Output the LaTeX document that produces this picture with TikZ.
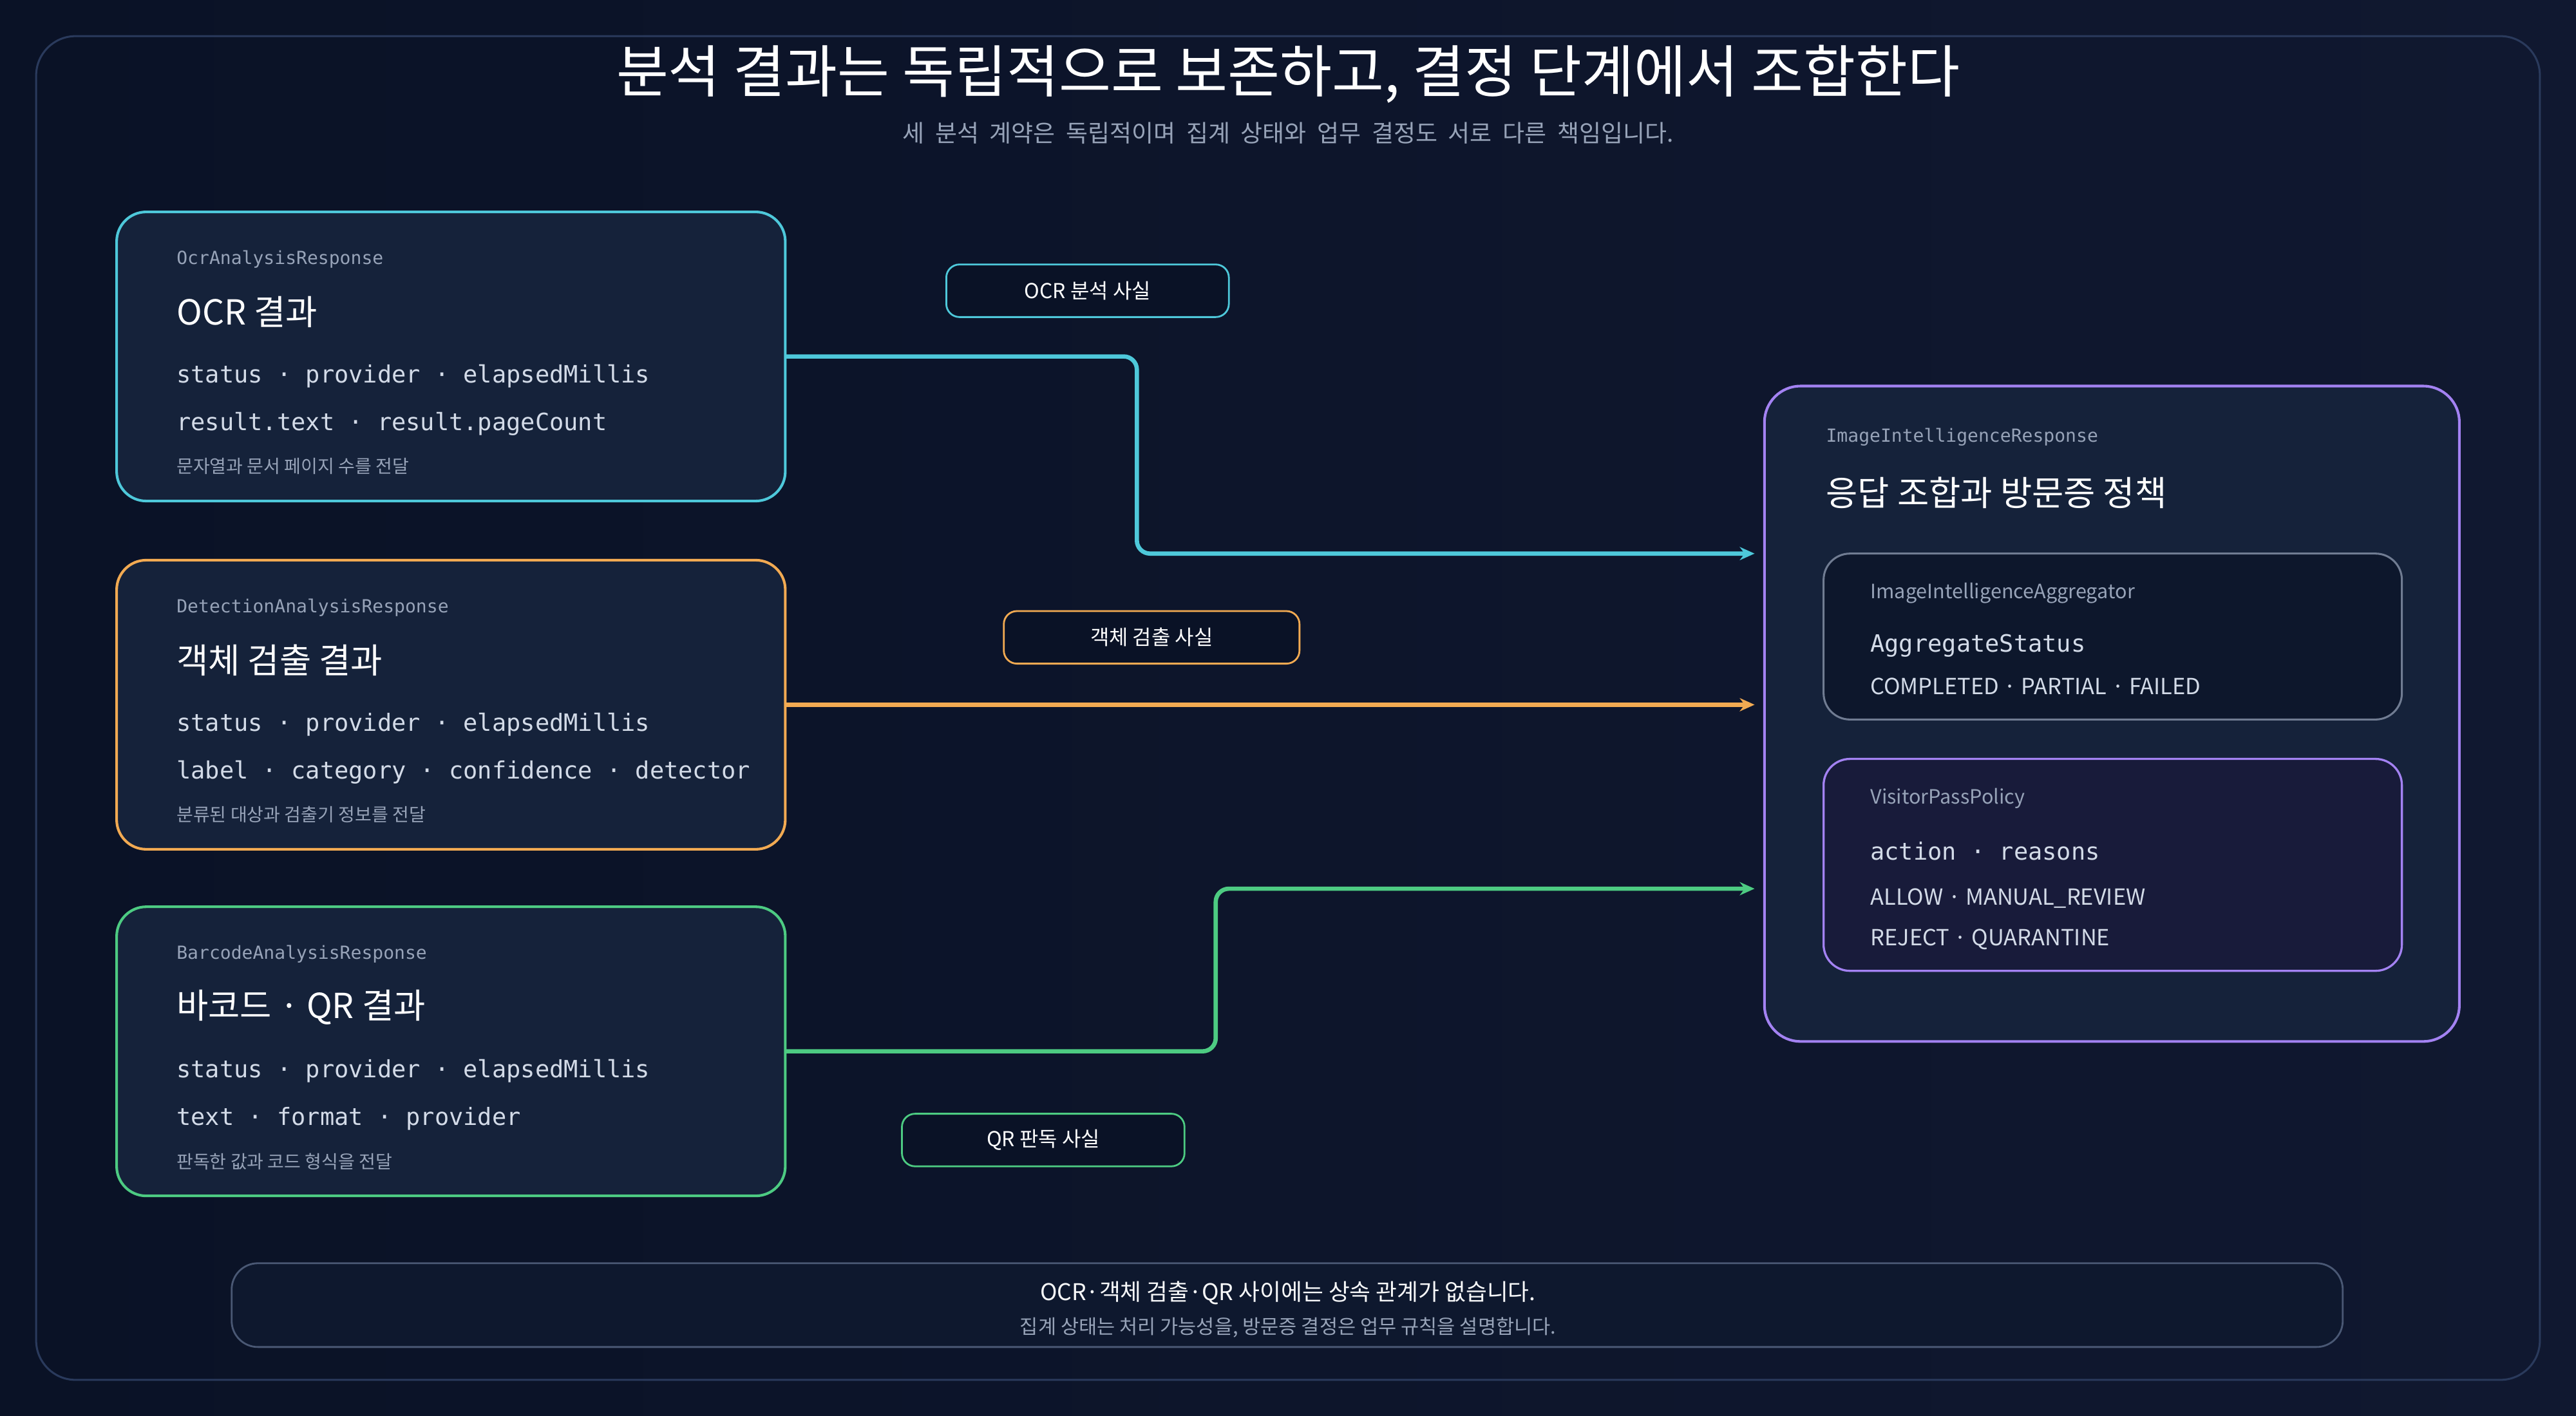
\documentclass[tikz,border=0pt]{standalone}
\usepackage{fontspec}
\setmainfont{Noto Sans CJK KR}
\newfontfamily\monof{DejaVu Sans Mono}
\usetikzlibrary{arrows.meta}
\definecolor{bgA}{HTML}{0A1226}
\definecolor{bgB}{HTML}{101830}
\definecolor{cardF}{HTML}{15223A}
\definecolor{cyanC}{HTML}{4EC8DA}
\definecolor{orgC}{HTML}{F2AA52}
\definecolor{grnC}{HTML}{4DCB82}
\definecolor{purC}{HTML}{A382F2}
\definecolor{grayT}{HTML}{97A3B8}
\definecolor{lightT}{HTML}{D3DBE8}
\definecolor{frameC}{HTML}{2A3A5C}
\tikzset{
 card/.style={line width=1.6pt, rounded corners=18pt, fill=cardF},
 cls/.style={anchor=west, font=\monof\fontsize{11}{13}\selectfont, text=grayT},
 head/.style={anchor=west, font=\fontsize{21}{24}\selectfont, text=white},
 fld/.style={anchor=west, font=\monof\fontsize{14.5}{16}\selectfont, text=lightT},
 note/.style={anchor=west, font=\fontsize{11}{13}\selectfont, text=grayT},
 tag/.style={draw, line width=1.1pt, rounded corners=8pt, fill=bgA, text=white, font=\fontsize{12.5}{14}\selectfont, minimum height=32pt, inner sep=0pt},
 flow/.style={line width=2.6pt, rounded corners=8pt, -{Stealth[length=9pt,width=8pt]}},
}
\begin{document}
\begin{tikzpicture}[x=1pt,y=-1pt]
\useasboundingbox (0,0) rectangle (1568,862);
\shade[left color=bgA, right color=bgB] (0,0) rectangle (1568,862);
\draw[frameC, line width=1.2pt, rounded corners=24pt] (22,22) rectangle (1546,840);
\node[font=\fontsize{34.5}{38}\selectfont, text=white] (title) at (784,45) {분석 결과는 독립적으로 보존하고, 결정 단계에서 조합한다};
\node[font=\fontsize{14.5}{16}\selectfont, text=grayT] (sub) at (784,81) {세\ \ 분석\ \ 계약은\ \ 독립적이며\ \ 집계\ \ 상태와\ \ 업무\ \ 결정도\ \ 서로\ \ 다른\ \ 책임입니다.};

% OCR
\draw[card, draw=cyanC] (71,129) rectangle (478,305);
\node[cls] (c1) at (104,158) {OcrAnalysisResponse};
\node[head] (h1) at (104,190) {OCR 결과};
\node[fld] (f1a) at (104,229) {status · provider · elapsedMillis};
\node[fld] (f1b) at (104,258) {result.text · result.pageCount};
\node[note] (n1) at (104,284) {문자열과 문서 페이지 수를 전달};
\coordinate (o1) at (478,217);
% Detection
\draw[card, draw=orgC] (71,341) rectangle (478,517);
\node[cls] (c2) at (104,370) {DetectionAnalysisResponse};
\node[head] (h2) at (104,402) {객체 검출 결과};
\node[fld] (f2a) at (104,441) {status · provider · elapsedMillis};
\node[fld] (f2b) at (104,470) {label · category · confidence · detector};
\node[note] (n2) at (104,496) {분류된 대상과 검출기 정보를 전달};
\coordinate (o2) at (478,429);
% Barcode
\draw[card, draw=grnC] (71,552) rectangle (478,728);
\node[cls] (c3) at (104,581) {BarcodeAnalysisResponse};
\node[head] (h3) at (104,613) {바코드 · QR 결과};
\node[fld] (f3a) at (104,652) {status · provider · elapsedMillis};
\node[fld] (f3b) at (104,681) {text · format · provider};
\node[note] (n3) at (104,707) {판독한 값과 코드 형식을 전달};
\coordinate (o3) at (478,640);

% Right
\draw[card, draw=purC, rounded corners=22pt] (1074,235) rectangle (1497,634);
\node[cls] (c4) at (1108,266) {ImageIntelligenceResponse};
\node[head] (h4) at (1108,300) {응답 조합과 방문증 정책};
\draw[line width=1.2pt, draw=grayT!70!cardF, fill=bgA!70!cardF, rounded corners=16pt] (1110,337) rectangle (1462,438);
\node[note, font=\fontsize{12}{14}\selectfont] (a1) at (1135,361) {ImageIntelligenceAggregator};
\node[fld] (a2) at (1135,393) {AggregateStatus};
\node[anchor=west, text=lightT, font=\fontsize{13.5}{16}\selectfont] (a3) at (1135,418) {COMPLETED · PARTIAL · FAILED};
\draw[line width=1.3pt, draw=purC, fill={rgb,255:red,24;green,27;blue,58}, rounded corners=16pt] (1110,462) rectangle (1462,591);
\node[note, font=\fontsize{12}{14}\selectfont] (p1) at (1135,486) {VisitorPassPolicy};
\node[fld] (p2) at (1135,518) {action · reasons};
\node[anchor=west, text=lightT, font=\fontsize{13.5}{16}\selectfont] (p3) at (1135,547) {ALLOW · MANUAL\_REVIEW};
\node[anchor=west, text=lightT, font=\fontsize{13.5}{16}\selectfont] (p4) at (1135,572) {REJECT · QUARANTINE};
\coordinate (t1) at (1068,337);
\coordinate (t2) at (1068,429);
\coordinate (t3) at (1068,541);

% arrows
\draw[flow, cyanC] (o1) -- (692,217) -- (692,337) -- (t1);
\draw[flow, orgC] (o2) -- (t2);
\draw[flow, grnC] (o3) -- (740,640) -- (740,541) -- (t3);

% tags
\node[tag, draw=cyanC, minimum width=172pt] (l1) at (662,177) {OCR 분석 사실};
\node[tag, draw=orgC, minimum width=180pt] (l2) at (701,388) {객체 검출 사실};
\node[tag, draw=grnC, minimum width=172pt] (l3) at (635,694) {QR 판독 사실};

% bottom
\draw[line width=1.1pt, draw=frameC!85!white, fill=bgA!60!cardF, rounded corners=16pt] (141,769) rectangle (1426,820);
\node[text=white!92!grayT, font=\fontsize{14}{16}\selectfont] (b1) at (784,787) {OCR·객체 검출·QR 사이에는 상속 관계가 없습니다.};
\node[text=grayT, font=\fontsize{12}{14}\selectfont] (b2) at (784,808) {집계 상태는 처리 가능성을, 방문증 결정은 업무 규칙을 설명합니다.};
\end{tikzpicture}
\end{document}
